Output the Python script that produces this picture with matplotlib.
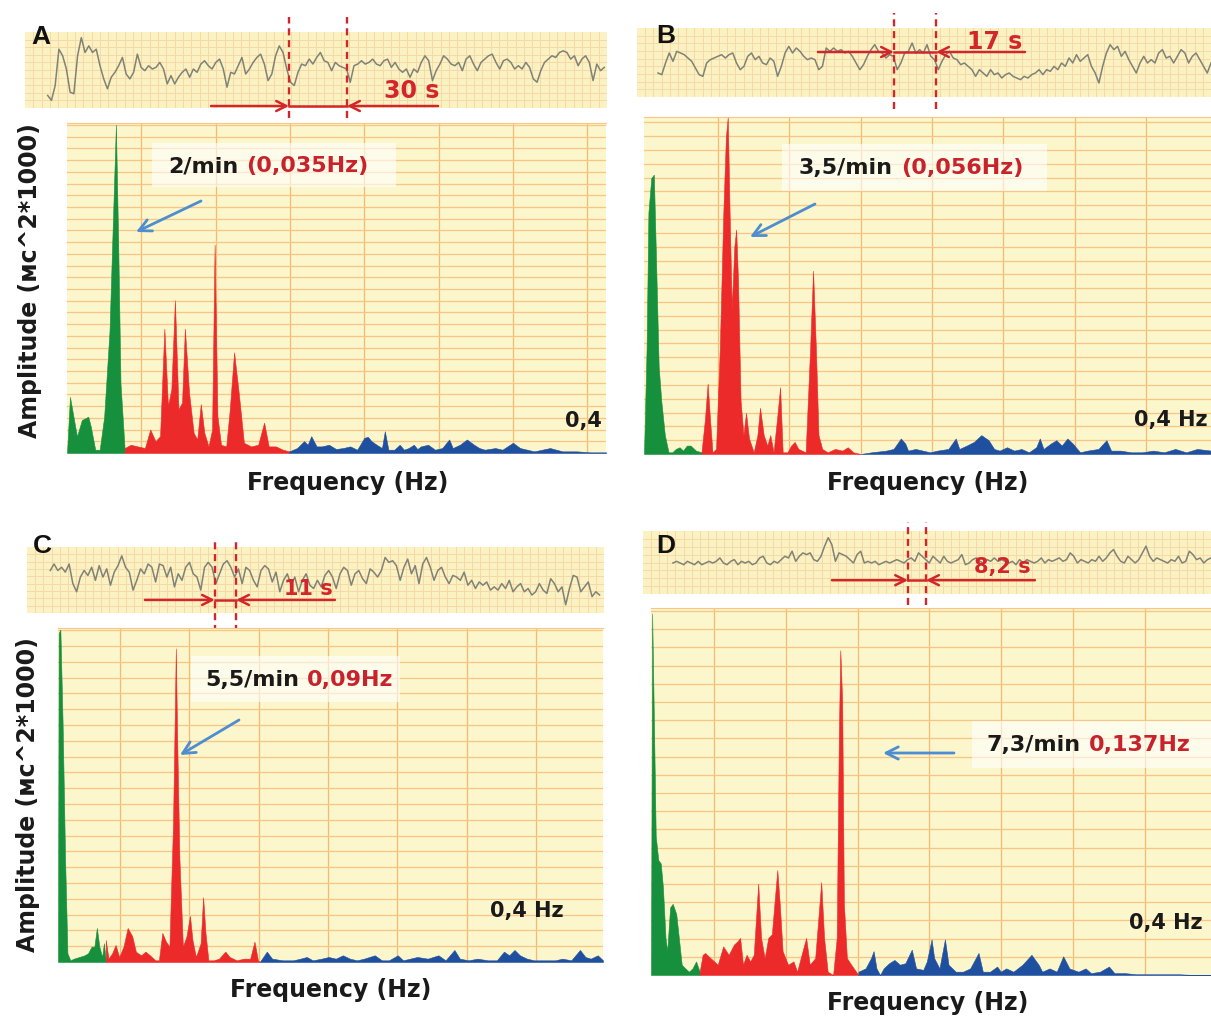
import numpy as np
import matplotlib
matplotlib.use('Agg')
import matplotlib.pyplot as plt
from matplotlib.patches import Rectangle

W, H = 1211, 1021

# ---- rhythmogram strips (RR values, arbitrary units) ----
rr_a = [40, 25, 70, 180, 160, 120, 50, 45, 160, 215, 170, 190, 170, 180, 130, 90, 60, 95, 110, 130,
        155, 105, 90, 110, 165, 125, 115, 130, 120, 125, 140, 120, 75, 100, 75, 95, 110, 120, 95, 120,
        110, 135, 145, 130, 120, 140, 150, 120, 65, 110, 105, 130, 155, 105, 120, 140, 155, 165, 135, 85,
        105, 160, 190, 170, 120, 80, 70, 110, 135, 130, 150, 135, 155, 170, 145, 140, 115, 140, 130, 125,
        120, 80, 130, 135, 145, 135, 140, 150, 135, 130, 145, 150, 125, 140, 120, 110, 120, 95, 120, 110,
        140, 160, 145, 85, 115, 135, 160, 150, 135, 130, 140, 115, 150, 160, 135, 115, 140, 150, 160, 165,
        140, 120, 145, 150, 140, 120, 130, 120, 140, 125, 90, 80, 115, 140, 150, 160, 155, 170, 175, 170,
        150, 160, 130, 150, 160, 140, 85, 135, 115, 125]
rr_b = [72, 67, 102, 132, 107, 137, 132, 127, 117, 107, 87, 67, 62, 102, 112, 117, 122, 127, 117, 127,
        132, 102, 82, 92, 122, 132, 112, 122, 102, 97, 117, 107, 62, 92, 132, 152, 132, 147, 137, 122,
        112, 117, 112, 82, 92, 147, 137, 147, 137, 142, 132, 137, 122, 102, 82, 97, 122, 142, 157, 137,
        132, 117, 127, 122, 82, 102, 132, 137, 162, 132, 142, 132, 157, 122, 112, 82, 107, 127, 137, 117,
        112, 97, 102, 92, 82, 62, 82, 72, 62, 82, 67, 72, 57, 67, 72, 62, 57, 52, 62, 57,
        67, 72, 82, 67, 82, 77, 92, 82, 102, 92, 117, 102, 127, 107, 117, 127, 92, 72, 42, 92,
        132, 157, 142, 152, 122, 137, 112, 92, 72, 102, 122, 102, 112, 102, 132, 142, 117, 122, 102, 122,
        142, 132, 102, 122, 132, 112, 92, 72, 102]
rr_c = [130, 150, 130, 140, 125, 150, 90, 65, 110, 130, 115, 140, 100, 145, 110, 135, 85, 125, 145, 175,
        140, 125, 70, 100, 135, 120, 150, 140, 95, 150, 145, 110, 140, 80, 120, 100, 140, 155, 120, 110,
        70, 140, 155, 140, 90, 120, 150, 160, 140, 110, 135, 90, 140, 130, 100, 80, 130, 145, 135, 95,
        125, 65, 100, 120, 85, 110, 65, 100, 120, 85, 75, 100, 80, 115, 130, 110, 75, 120, 140, 130,
        85, 120, 130, 105, 90, 135, 125, 110, 130, 170, 155, 160, 145, 100, 140, 165, 120, 145, 90, 150,
        170, 140, 100, 130, 140, 110, 90, 115, 110, 100, 125, 85, 100, 75, 95, 85, 95, 70, 80, 70,
        90, 75, 100, 65, 80, 90, 65, 75, 55, 65, 90, 70, 60, 105, 90, 65, 80, 25, 75, 115,
        110, 65, 80, 95, 50, 65, 55]
rr_d = [92, 97, 92, 87, 97, 92, 87, 97, 87, 92, 97, 92, 97, 107, 92, 87, 97, 102, 87, 97,
        92, 97, 87, 92, 107, 112, 92, 87, 97, 92, 102, 112, 107, 127, 97, 112, 122, 117, 122, 102,
        97, 112, 142, 167, 147, 97, 122, 117, 112, 102, 92, 117, 127, 92, 97, 92, 97, 87, 92, 97,
        92, 97, 102, 97, 92, 102, 107, 97, 122, 112, 102, 92, 112, 102, 92, 112, 97, 92, 97, 102,
        117, 87, 92, 102, 107, 97, 92, 102, 97, 107, 97, 102, 97, 92, 97, 87, 102, 92, 102, 97,
        92, 97, 107, 92, 102, 97, 102, 107, 97, 102, 122, 112, 92, 102, 97, 92, 102, 97, 112, 97,
        107, 122, 132, 112, 97, 92, 112, 102, 92, 102, 122, 142, 112, 97, 107, 102, 97, 92, 102, 97,
        112, 92, 97, 127, 117, 102, 107, 92, 102, 107]

# record time (s) covered by each trace, marker times, arrow tails
rr_time = {'A': (11.7, 298.6), 'B': (11.0, 300.0), 'C': (12.1, 297.7), 'D': (15.8, 300.0)}
marks = {'A': (136.1, 166.0), 'B': (134.3, 156.3), 'C': (97.7, 108.7), 'D': (140.0, 149.5)}
tails = {'A': (95.9, 212.9), 'B': (94.6, 202.8), 'C': (61.3, 160.1), 'D': (99.8, 207.0)}
period_txt = {'A': '30 s', 'B': '17 s', 'C': '11 s', 'D': '8,2 s'}

# ---- spectra: (frequency Hz, amplitude % of scale) ----
vlf_a = [(0.000, 0), (0.002, 17), (0.0067, 5), (0.010, 10), (0.0143, 11), (0.016, 8), (0.019, 1),
         (0.022, 1), (0.025, 11), (0.0286, 37), (0.031, 72), (0.0329, 99.5), (0.0345, 62), (0.036, 21),
         (0.0388, 1)]
lf_a = [(0.0388, 1.5), (0.0429, 2.5), (0.0476, 2.0), (0.0524, 1.5), (0.056, 7.1), (0.0595, 3.6),
        (0.0626, 5.1), (0.0655, 37.7), (0.0679, 14.3), (0.0702, 19.3), (0.0726, 46.3), (0.075, 13.2),
        (0.0774, 15.3), (0.0793, 37.7), (0.0821, 18.3), (0.0852, 6.1), (0.0876, 4.1), (0.090, 14.8),
        (0.0924, 6.1), (0.0952, 2.0), (0.0976, 7.1), (0.0993, 63.1), (0.1012, 11.2), (0.1036, 2.5),
        (0.1071, 2.0), (0.1095, 13.2), (0.1124, 30.5), (0.1155, 18.3), (0.119, 3.1), (0.1238, 2.0),
        (0.1286, 2.5), (0.1326, 9.2), (0.1357, 2.0), (0.1405, 2.0), (0.1452, 1.0), (0.1495, 0.5)]
hf_a = [(0.1495, 0.5), (0.1548, 1.5), (0.1595, 3.6), (0.1619, 2.5), (0.1643, 5.1), (0.1679, 2.0),
        (0.1714, 2.0), (0.1762, 2.5), (0.181, 1.2), (0.1857, 1.5), (0.1905, 2.0), (0.1952, 1.0),
        (0.200, 4.6), (0.2024, 4.9), (0.2048, 3.6), (0.2083, 2.5), (0.2119, 1.5), (0.2138, 6.6),
        (0.2162, 1.0), (0.2202, 1.0), (0.2238, 2.5), (0.2267, 1.0), (0.2298, 1.5), (0.2333, 2.5),
        (0.2357, 1.2), (0.2381, 2.0), (0.2429, 2.5), (0.2476, 1.0), (0.2524, 1.5), (0.2571, 4.1),
        (0.2595, 1.5), (0.2643, 2.5), (0.269, 4.1), (0.2738, 2.5), (0.2774, 1.5), (0.281, 1.0),
        (0.2881, 1.5), (0.2929, 1.0), (0.300, 3.1), (0.3048, 1.5), (0.3143, 0.5), (0.325, 1.5),
        (0.3333, 0.5), (0.3429, 0.5), (0.3524, 0.2), (0.3626, 0.2)]

vlf_b = [(-0.0018, 0), (0.0, 31), (0.0013, 71.7), (0.0033, 81.9), (0.0051, 82.9), (0.0064, 61.5),
         (0.0085, 25.9), (0.0103, 15.8), (0.0128, 5.6), (0.0154, 0.5), (0.018, 0.5), (0.0205, 1.5),
         (0.0231, 2.0), (0.0256, 1.0), (0.0282, 2.5), (0.0308, 2.5), (0.0346, 1.0), (0.0385, 0.5)]
lf_b = [(0.0385, 0.5), (0.041, 10.7), (0.0428, 20.9), (0.0444, 10.7), (0.0462, 0.5), (0.0487, 1.5),
        (0.0513, 31.0), (0.0538, 71.7), (0.0556, 94.1), (0.0569, 100), (0.0582, 71.7), (0.0597, 43.2),
        (0.0615, 61.5), (0.0628, 66.6), (0.0641, 51.4), (0.0659, 15.8), (0.0679, 5.6), (0.0697, 12.2),
        (0.0718, 4.6), (0.0751, 0.5), (0.0777, 5.6), (0.0795, 13.7), (0.0821, 5.6), (0.0846, 2.5),
        (0.0867, 5.6), (0.089, 0.5), (0.0915, 10.7), (0.0936, 19.8), (0.0954, 0.5), (0.0987, 0.5),
        (0.1013, 2.5), (0.1038, 3.6), (0.1064, 1.5), (0.1115, 0.5), (0.1146, 31.0), (0.1167, 54.4),
        (0.1187, 31.0), (0.1205, 5.6), (0.1231, 1.5), (0.1269, 0.5), (0.1321, 1.5), (0.1372, 1.0),
        (0.141, 2.0), (0.1449, 0.5), (0.15, 0)]
hf_b = [(0.15, 0), (0.1577, 0.5), (0.1679, 1.0), (0.1731, 1.5), (0.1782, 4.6), (0.1813, 3.1),
        (0.1833, 1.0), (0.1885, 1.5), (0.1936, 1.0), (0.1987, 0.5), (0.2038, 1.0), (0.2115, 1.5),
        (0.2167, 4.6), (0.2192, 1.5), (0.2244, 2.5), (0.2295, 3.6), (0.2346, 5.6), (0.2397, 4.1),
        (0.2436, 1.5), (0.2474, 1.0), (0.2526, 2.0), (0.2577, 1.0), (0.2628, 1.5), (0.2679, 0.5),
        (0.2731, 2.0), (0.2756, 4.6), (0.2782, 1.5), (0.2833, 3.1), (0.2872, 4.1), (0.291, 2.5),
        (0.2949, 4.6), (0.2987, 3.1), (0.3038, 0.5), (0.309, 1.0), (0.3167, 1.5), (0.3223, 4.1),
        (0.3256, 1.0), (0.3321, 1.0), (0.3397, 0.5), (0.3474, 0.5), (0.3551, 1.0), (0.3628, 0.5),
        (0.3705, 1.5), (0.3782, 0.5), (0.3859, 1.5), (0.3956, 1.0)]

vlf_c = [(0.0054, 0), (0.0059, 98.5), (0.0071, 99.5), (0.0087, 71.9), (0.0105, 31.1), (0.0122, 2.6),
         (0.0143, 0.5), (0.0168, 1.0), (0.0207, 1.5), (0.0245, 2.0), (0.027, 2.6), (0.0296, 4.6),
         (0.0316, 4.6), (0.0334, 10.2), (0.0352, 4.6), (0.0372, 1.5), (0.0385, 5.6), (0.0398, 0.5)]
lf_c = [(0.0398, 6.6), (0.0418, 1.0), (0.0444, 2.6), (0.0469, 5.1), (0.0495, 1.5), (0.0526, 4.6),
        (0.0556, 10.2), (0.0589, 7.7), (0.0615, 3.1), (0.0653, 2.0), (0.0684, 3.1), (0.0717, 2.0),
        (0.0755, 0.5), (0.0781, 0.5), (0.0806, 8.7), (0.0832, 6.1), (0.0857, 4.6), (0.0883, 41.3),
        (0.0895, 71.9), (0.0903, 93.9), (0.0913, 66.8), (0.0929, 31.1), (0.0954, 4.6), (0.098, 7.7),
        (0.1005, 13.8), (0.1023, 6.6), (0.1048, 1.5), (0.1082, 5.6), (0.11, 19.4), (0.1117, 8.7),
        (0.1138, 0.5), (0.1176, 0.5), (0.1214, 1.0), (0.126, 3.1), (0.1291, 1.5), (0.1342, 0.5),
        (0.1393, 1.0), (0.1439, 1.0), (0.147, 6.1), (0.1495, 0.5), (0.1508, 0)]
hf_c = [(0.1508, 0), (0.1559, 3.1), (0.1597, 1.0), (0.1673, 0.5), (0.175, 0.5), (0.1801, 1.0),
        (0.1847, 1.5), (0.189, 0.5), (0.1954, 1.0), (0.2005, 1.5), (0.2056, 1.0), (0.2107, 2.0),
        (0.2158, 1.0), (0.2209, 0.5), (0.226, 1.0), (0.2337, 2.0), (0.2388, 0.5), (0.2439, 0.5),
        (0.2503, 2.0), (0.2541, 0.5), (0.2592, 1.0), (0.2643, 1.5), (0.2719, 1.0), (0.2796, 2.0),
        (0.2847, 0.5), (0.2911, 3.6), (0.295, 1.0), (0.3013, 0.5), (0.3077, 1.0), (0.3153, 0.5),
        (0.3217, 0.5), (0.3268, 3.1), (0.3306, 2.0), (0.3344, 3.6), (0.3383, 2.0), (0.3434, 1.0),
        (0.3485, 0.5), (0.3561, 0.5), (0.3638, 0.5), (0.3689, 1.0), (0.3753, 0.5), (0.3816, 3.6),
        (0.3855, 1.5), (0.3893, 1.0), (0.3944, 2.0), (0.3982, 0.5)]

vlf_d = [(0.006, 0), (0.0068, 98.5), (0.0078, 74.7), (0.0093, 37.8), (0.0111, 31.3), (0.0128, 30.4),
         (0.0143, 24.0), (0.0161, 10.1), (0.0173, 6.5), (0.0193, 18.4), (0.0211, 19.4), (0.0236, 16.6),
         (0.0254, 10.1), (0.0274, 2.8), (0.0299, 1.8), (0.0324, 0.9), (0.0349, 1.8), (0.0374, 3.7),
         (0.0399, 0.9)]
lf_d = [(0.0399, 0.9), (0.042, 5.5), (0.0437, 6.0), (0.0475, 4.6), (0.0525, 2.8), (0.0563, 7.8),
        (0.0601, 5.5), (0.0638, 8.3), (0.0663, 9.2), (0.0681, 10.1), (0.0701, 2.8), (0.0726, 5.5),
        (0.0751, 3.7), (0.0776, 5.5), (0.0807, 24.9), (0.0827, 10.1), (0.0852, 4.6), (0.0877, 10.1),
        (0.0902, 11.1), (0.092, 19.4), (0.094, 28.6), (0.0957, 19.4), (0.0977, 6.5), (0.1015, 2.8),
        (0.1053, 3.7), (0.1078, 0.9), (0.1103, 4.6), (0.1141, 10.1), (0.1166, 2.8), (0.1204, 4.6),
        (0.1246, 25.3), (0.1266, 10.1), (0.1291, 0.9), (0.1329, 0), (0.1354, 10.1), (0.1369, 65.4),
        (0.1379, 88.5), (0.1392, 74.7), (0.1404, 19.4), (0.1425, 4.6), (0.1455, 2.8), (0.1505, 0)]
hf_d = [(0.1505, 0.9), (0.1555, 1.8), (0.1593, 4.6), (0.1611, 6.5), (0.1631, 1.8), (0.1656, 0),
        (0.1681, 1.8), (0.1719, 3.2), (0.1756, 4.1), (0.1794, 2.8), (0.1832, 3.2), (0.1877, 6.9),
        (0.1907, 1.8), (0.1957, 1.4), (0.1982, 3.7), (0.2015, 9.7), (0.2033, 4.6), (0.207, 1.8),
        (0.2108, 9.7), (0.2133, 2.8), (0.2183, 0.9), (0.2234, 0.9), (0.2284, 1.8), (0.2342, 6.0),
        (0.2372, 0.9), (0.2422, 0.9), (0.2472, 2.3), (0.2497, 0.9), (0.2535, 1.8), (0.2585, 0.9),
        (0.2648, 2.8), (0.2711, 5.5), (0.2761, 2.8), (0.2786, 0.9), (0.2837, 1.8), (0.2887, 0.9),
        (0.2932, 5.1), (0.2975, 1.8), (0.3038, 0.9), (0.3088, 1.8), (0.3126, 0.5), (0.3188, 0.9),
        (0.3251, 2.3), (0.3289, 0.5), (0.3364, 0.5), (0.344, 0.2), (0.354, 0.2), (0.3641, 0.2),
        (0.3741, 0.2), (0.3842, 0), (0.3962, 0)]

peak_txt = {'A': ('2/min', '(0,035Hz)'), 'B': ('3,5/min', '(0,056Hz)'),
            'C': ('5,5/min', '0,09Hz'), 'D': ('7,3/min', '0,137Hz')}
end_txt = {'A': '0,4', 'B': '0,4 Hz', 'C': '0,4 Hz', 'D': '0,4 Hz'}

# ---- colours ----
SPEC_BG = '#fcf6cc'
STRIP_BG = '#fbf2c4'
GRID_H = '#f7c683'
GRID_V = '#f4bb72'
STRIP_GRID = '#f8d8a4'
GREEN, RED, BLUE = '#17903e', '#ec2a2a', '#1f4f9f'
SIG = '#7f8276'
MARK = '#d2262b'
ANN_RED = '#c8232c'
ARR_BLUE = '#4d8dd0'
INK = '#1a1a1a'


def rect(x0, y0, x1, y1):
    return [x0 / W, 1 - y1 / H, (x1 - x0) / W, (y1 - y0) / H]


def fp(x, y):
    return (x, H - y)


fig = plt.figure(figsize=(W / 100, H / 100), dpi=100)
fig.patch.set_facecolor('white')


def strip(key, box, vals, ylim, rows, span, arrow_y, txt_xy, txt_size):
    ax = fig.add_axes(rect(*box))
    ax.set_facecolor(STRIP_BG)
    ax.set_xlim(0, 300)
    ax.set_ylim(*ylim)
    for v in np.linspace(0, 300, 71)[1:-1]:
        ax.axvline(v, color=STRIP_GRID, lw=0.7, zorder=1)
    for h in np.linspace(ylim[0], ylim[1], rows + 1)[1:-1]:
        ax.axhline(h, color=STRIP_GRID, lw=0.7, zorder=1)
    t = np.linspace(rr_time[key][0], rr_time[key][1], len(vals))
    ax.plot(t, vals, color=SIG, lw=1.1, zorder=3)
    m = marks[key]
    for x in m:
        ax.plot([x, x], span, color=MARK, lw=1.7, ls=(0, (3, 2)), clip_on=False, zorder=5)
    ax.plot(m, [arrow_y, arrow_y], color=MARK, lw=1.8, zorder=5)
    for tail, head in zip(tails[key], m):
        ax.annotate('', xy=(head, arrow_y), xytext=(tail, arrow_y),
                    arrowprops=dict(arrowstyle='->', color=MARK, lw=1.8, mutation_scale=18,
                                    shrinkA=0, shrinkB=0),
                    annotation_clip=False, zorder=5)
    ax.text(txt_xy[0], txt_xy[1], period_txt[key], color=MARK, fontsize=txt_size,
            fontweight='bold', ha='center', va='center', zorder=6)
    ax.set_xticks([])
    ax.set_yticks([])
    for s in ax.spines.values():
        s.set_visible(False)
    return ax


def spectrum(key, box, xlim, hstep, bands, ann_box, txt_xy, txt_size, arrow, end_xy):
    ax = fig.add_axes(rect(*box))
    ax.set_facecolor(SPEC_BG)
    ax.set_xlim(*xlim)
    ax.set_ylim(0, 100)
    for v in np.arange(0.05, xlim[1], 0.05):
        ax.axvline(v, color=GRID_V, lw=0.9, zorder=1)
    for h in np.arange(hstep, 100, hstep):
        ax.axhline(h, color=GRID_H, lw=0.9, zorder=1)
    for pts, col in zip(bands, (GREEN, RED, BLUE)):
        f, p = np.array(pts).T
        ax.fill_between(f, p, color=col, lw=0.4, zorder=2)
    ax.set_xticks([])
    ax.set_yticks([])
    for name, s in ax.spines.items():
        s.set_visible(name == 'top')
        s.set_color(GRID_H)

    x0, y0, x1, y1 = ann_box
    ax.add_patch(Rectangle((x0 / W, 1 - y1 / H), (x1 - x0) / W, (y1 - y0) / H,
                           transform=fig.transFigure, facecolor='white', alpha=0.6,
                           edgecolor='none', clip_on=False, zorder=5))
    black, red = peak_txt[key]
    t1 = ax.annotate(black, xy=fp(*txt_xy), xycoords='figure pixels', ha='left', va='center',
                     fontsize=txt_size, fontweight='bold', color=INK, zorder=6,
                     annotation_clip=False)
    ax.annotate(red, xy=(1, 0.5), xycoords=t1, xytext=(6, 0), textcoords='offset points',
                ha='left', va='center', fontsize=txt_size, fontweight='bold', color=ANN_RED,
                zorder=6, annotation_clip=False)
    ax.annotate('', xy=fp(*arrow[1]), xytext=fp(*arrow[0]), xycoords='figure pixels',
                textcoords='figure pixels',
                arrowprops=dict(arrowstyle='->', color=ARR_BLUE, lw=2.0, mutation_scale=22,
                                shrinkA=0, shrinkB=0),
                annotation_clip=False, zorder=6)
    ax.annotate(end_txt[key], xy=fp(*end_xy), xycoords='figure pixels', ha='center',
                va='center', fontsize=15, fontweight='bold', color=INK, zorder=6,
                annotation_clip=False)
    return ax


# strips
strip('A', (25, 32, 607, 108), rr_a, (2, 232), 10, (-28, 278), 8, (199.5, 53), 17)
strip('B', (637, 28, 1211, 97), rr_b, (0, 207), 9, (-36, 252), 135, (187.1, 165), 17)
strip('C', (27, 547, 604, 613), rr_c, (0, 202), 9, (-58, 224), 40, (146.1, 72), 15)
strip('D', (643, 531, 1211, 594), rr_d, (0, 187), 8, (-33, 214), 41, (189.6, 80), 15)

# spectra
spectrum('A', (67, 123, 606, 453), (0.0, 0.3626), 3.55, (vlf_a, lf_a, hf_a),
         (152, 143, 396, 187), (168, 166), 16, ((201, 201), (136, 232)), (583, 421))
spectrum('B', (644, 117, 1211, 454), (-0.0018, 0.3956), 4.1, (vlf_b, lf_b, hf_b),
         (782, 144, 1047, 191), (799, 168), 16, ((815, 204), (750, 237)), (1171, 420))
spectrum('C', (58, 628, 603, 962), (0.0054, 0.3982), 4.73, (vlf_c, lf_c, hf_c),
         (191, 656, 400, 702), (205, 680), 16, ((239, 720), (180, 755)), (527, 911))
spectrum('D', (651, 608, 1211, 975), (0.006, 0.3962), 4.96, (vlf_d, lf_d, hf_d),
         (972, 721, 1211, 768), (986, 745), 16, ((954, 753), (883, 753)), (1166, 923))

# panel letters
for lab, (x, y) in {'A': (41, 37), 'B': (666, 36), 'C': (42, 546), 'D': (666, 546)}.items():
    fig.text(x / W, 1 - y / H, lab, fontsize=19, fontweight='bold', family='Liberation Sans',
             ha='center', va='center', color='#111111', zorder=10)

# axis titles
for x, y in [(348, 483), (928, 483), (331, 990), (928, 1003)]:
    fig.text(x / W, 1 - y / H, 'Frequency (Hz)', fontsize=17, fontweight='bold',
             ha='center', va='center', color=INK)
for x, y in [(30, 281), (28, 795)]:
    fig.text(x / W, 1 - y / H, 'Amplitude (мс^2*1000)', fontsize=17, fontweight='bold',
             rotation=90, ha='center', va='center', color=INK)

fig.savefig('out.png', dpi=100, facecolor='white')
